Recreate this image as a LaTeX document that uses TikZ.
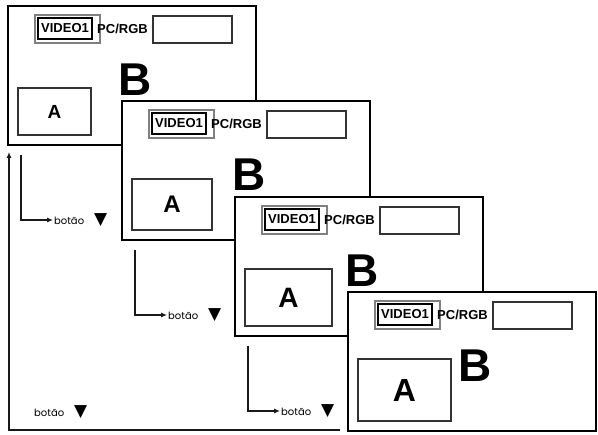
\documentclass[tikz,border=0pt]{standalone}
\usepackage{fontspec}
\setmainfont{Liberation Sans}
\newfontfamily\btfont{Poppins}
\newfontfamily\symfont{DejaVu Sans}
\usetikzlibrary{arrows.meta,positioning,calc}
\tikzset{
  screen/.style={rectangle, draw=black, line width=2pt, fill=white,
                 minimum width=248pt, minimum height=139pt, inner sep=0pt},
  srcframe/.style={rectangle, draw=black!50, line width=1.6pt, inner sep=0pt,
                   minimum width=65pt, minimum height=28pt},
  srcbox/.style={rectangle, draw=black, line width=1.2pt, inner sep=0pt,
                 minimum width=54pt, minimum height=21pt,
                 font=\fontsize{13}{13}\selectfont\bfseries},
  blank/.style={rectangle, draw=black!80, line width=1.1pt, inner sep=0pt,
                minimum width=79pt, minimum height=27pt},
  pip/.style={rectangle, draw=black!80, line width=1.1pt, inner sep=0pt, font=\bfseries},
  lbl/.style={inner sep=0pt, font=\fontsize{13}{13}\selectfont\bfseries},
  big/.style={inner sep=0pt, font=\fontsize{46}{46}\selectfont\bfseries},
  btn/.style={anchor=west, inner sep=1pt, font=\btfont\fontsize{10}{12}\selectfont},
  ar/.style={-{Latex[length=6pt,width=5pt]}, line width=1.1pt, draw=black!90},
}
\newcommand{\tri}{{\symfont\fontsize{17}{17}\selectfont ▼}}

\begin{document}
\begin{tikzpicture}[x=1pt,y=-1pt]
\useasboundingbox (0,0) rectangle (598,435);
% the four screens, the picture A grows each step
\foreach \i/\x/\y/\aw/\ah/\as in {1/8/6/73/47/19, 2/122/101/80/51/24,
                                  3/235/197/87/57/28, 4/348/292/93/62/32} {
  \node[screen] (s\i) at (\x+124,\y+69.5) {};
  \begin{scope}[shift={(\x,\y)}]
    \node[srcframe] (f\i) at (59.5,23) {};
    \node[srcbox] (v\i) at (57,22.5) {VIDEO1};
    \node[lbl, anchor=west] (p\i) at (89,23) {PC/RGB};
    \node[blank] (e\i) at (184.5,23.5) {};
    \node[big] (bb\i) at (127,74) {B};
    \node[pip, minimum width=\aw pt, minimum height=\ah pt,
          font=\fontsize{\as}{\as}\selectfont\bfseries] (a\i) at (10+\aw/2,129-\ah/2) {A};
  \end{scope}
}
% step arrows under the screens
\foreach \i in {1,2,3} {
  \coordinate (c\i) at ([xshift=14pt,yshift=-9pt]s\i.south west);
  \node[btn] (b\i) at ([xshift=46pt,yshift=-74pt]s\i.south west) {botão\hspace{10pt}\tri};
  \draw[ar] (c\i) |- (b\i.west);
}
% back to the first screen
\coordinate (lp0) at (340,430);
\coordinate (lp1) at (9,152);
\node[btn] (b0) at (33,412) {botão\hspace{10pt}\tri};
\draw[ar] (lp0) -| (lp1);
\end{tikzpicture}
\end{document}
